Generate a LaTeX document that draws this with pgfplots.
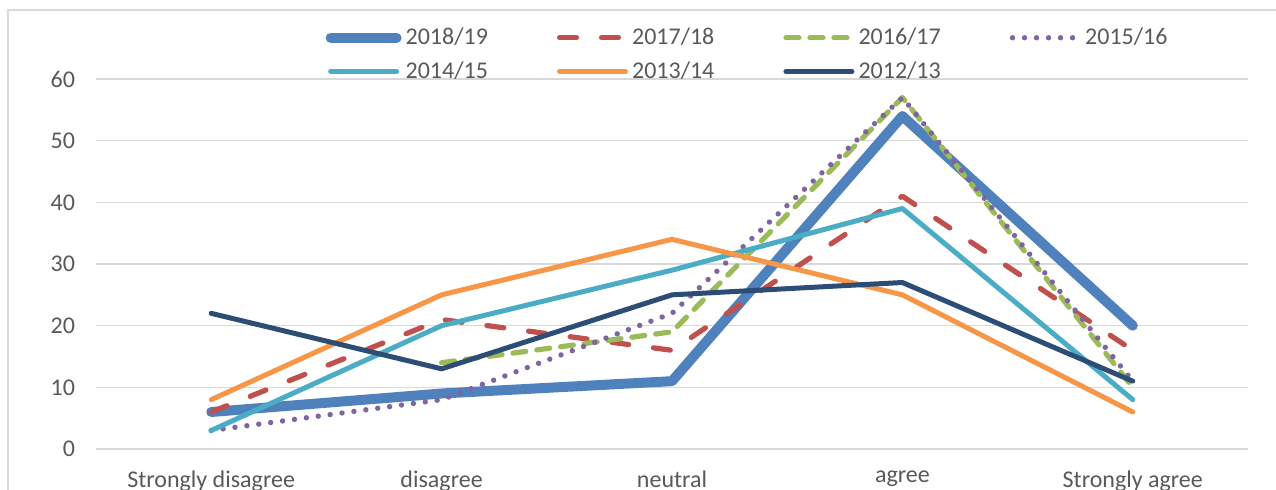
\documentclass[border=0pt]{standalone}
\usepackage{fontspec}
\setmainfont{Carlito}
\usepackage{pgfplots}
\pgfplotsset{compat=1.18}
\definecolor{cA}{HTML}{4F81BD}
\definecolor{cB}{HTML}{C0504D}
\definecolor{cC}{HTML}{9BBB59}
\definecolor{cD}{HTML}{8064A2}
\definecolor{cE}{HTML}{4BACC6}
\definecolor{cF}{HTML}{F79646}
\definecolor{cG}{HTML}{2C4D75}
\definecolor{gridgray}{HTML}{D9D9D9}
\definecolor{txtgray}{HTML}{595959}
\begin{document}
\begin{tikzpicture}
\begin{axis}[
  at={(0pt,0pt)}, anchor=south west,
  width=576pt, height=185pt, scale only axis,
  xmin=-0.5, xmax=4.5, ymin=0, ymax=60,
  xtick={0,1,2,3,4},
  xticklabels={Strongly disagree, disagree, neutral, agree, Strongly agree},
  ytick={0,10,...,60},
  ymajorgrids,
  grid style={color=gridgray, line width=0.75pt},
  axis line style={draw=none},
  major tick length=0pt,
  tick label style={font=\fontsize{12}{14}\selectfont, text=txtgray},
  yticklabel style={xshift=-7pt},
  xticklabel style={yshift=-7.5pt},
  /pgf/number format/assume math mode=true,
  no markers,
  clip=false,
  legend columns=4,
  legend image code/.code={\draw[#1] (0pt,0pt) -- (33pt,0pt);},
  legend style={
    at={(0.1990,1.15)}, anchor=north west,
    draw=none, fill=none, inner sep=0pt,
    font=\fontsize{12}{14}\selectfont, text=txtgray,
    nodes={inner sep=2pt},
    row sep=3pt,
    /tikz/every even column/.append style={column sep=32.5pt},
  },
]
\addplot[cA, line width=5pt, line cap=round, line join=round]
  coordinates {(0,6)(1,9)(2,11)(3,54)(4,20)};
\addlegendentry{2018/19}
\addplot[cB, line width=2.6pt, line cap=round, line join=round, dash pattern=on 8.5pt off 12.5pt]
  coordinates {(0,6)(1,21)(2,16)(3,41)(4,16)};
\addlegendentry{2017/18}
\addplot[cC, line width=2.6pt, line cap=round, line join=round, dash pattern=on 6.5pt off 5.5pt]
  coordinates {(1,14)(2,19)(3,57)(4,10)};
\addlegendentry{2016/17}
\addplot[cD, line width=2.7pt, line cap=round, line join=round, dash pattern=on 0pt off 6pt]
  coordinates {(0,3)(1,8)(2,22)(3,57)(4,11)};
\addlegendentry{2015/16}
\addplot[cE, line width=2.5pt, line cap=round, line join=round]
  coordinates {(0,3)(1,20)(2,29)(3,39)(4,8)};
\addlegendentry{2014/15}
\addplot[cF, line width=2.5pt, line cap=round, line join=round]
  coordinates {(0,8)(1,25)(2,34)(3,25)(4,6)};
\addlegendentry{2013/14}
\addplot[cG, line width=2.5pt, line cap=round, line join=round]
  coordinates {(0,22)(1,13)(2,25)(3,27)(4,11)};
\addlegendentry{2012/13}
\end{axis}
\draw[gridgray, line width=0.75pt] (-44pt,-40pt) -- (-44pt,219.5pt) -- (640pt,219.5pt);
\pgfresetboundingbox
\path[use as bounding box] (-48pt,-20pt) rectangle (590pt,224.5pt);
\end{tikzpicture}
\end{document}
